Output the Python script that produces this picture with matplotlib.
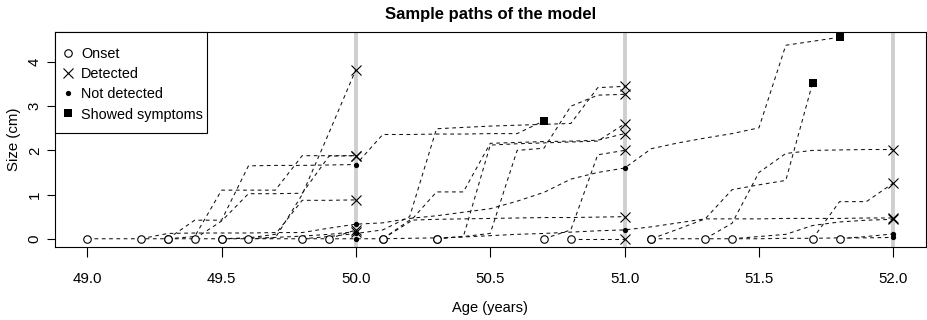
import numpy as np
import matplotlib
matplotlib.use("Agg")
import matplotlib.pyplot as plt
from matplotlib.patches import Rectangle

plt.rcParams['font.family'] = ['Liberation Sans', 'DejaVu Sans']

# ---- data: each tumour path = onset age, sizes on a 0.1-year grid, how it ended ----
screen_ages = [50.0, 51.0, 52.0]
step = 0.1

p01_onset = 49.0
p01_size = [0, 0, 0, 0, 0, 0, 0, 0, 0, 0, 0.0,
            0.0, 0.01, 0.02, 0.04, 0.07, 0.10, 0.12, 0.15, 0.18, 0.20,
            0.27, 0.36, 0.45, 0.45, 0.45, 0.46, 0.46, 0.46, 0.47, 0.47]
p01_end = "detected"

p02_onset = 49.2
p02_size = [0, 0.12, 0.13, 0.13, 0.13, 0.14, 0.14, 0.24, 0.33,
            0.36, 0.46, 0.52, 0.60, 0.68, 0.85, 1.05, 1.35, 1.50, 1.60,
            2.04, 2.17, 2.28, 2.38, 2.51, 4.38, 4.47, 4.56]
p02_end = "symptoms"

p03_onset = 49.3
p03_size = [0, 0.42, 0.42, 1.65, 1.66, 1.66, 1.67, 1.68,
            2.36, 2.36, 2.37, 2.37, 2.38, 2.38, 2.67]
p03_end = "symptoms"

p04_onset = 49.3
p04_size = [0, 0.05, 1.10, 1.10, 1.10, 1.88, 1.88, 1.88]
p04_end = "detected"

p05_onset = 49.4
p05_size = [0, 0.40, 1.02, 1.02, 1.03, 1.87, 1.88]
p05_end = "detected"

p06_onset = 49.5
p06_size = [0, 0.01, 0.03, 0.06, 0.10, 0.16]
p06_end = "detected"

p07_onset = 49.5
p07_size = [0, 0.02, 0.10, 0.87, 0.87, 0.88]
p07_end = "detected"

p08_onset = 49.6
p08_size = [0, 0.02, 1.00, 2.40, 3.83]
p08_end = "detected"

p09_onset = 49.8
p09_size = [0, 0.05, 0.12,
            0.20, 0.50, 2.49, 2.52, 2.55, 2.57, 2.59, 2.61, 3.42, 3.45]
p09_end = "detected"

p10_onset = 49.9
p10_size = [0, 0.20]
p10_end = "detected"

p11_onset = 50.1
p11_size = [0, 0.38, 1.06, 1.06, 2.16, 2.18, 2.20, 2.21, 2.23, 2.38]
p11_end = "detected"

p12_onset = 50.1
p12_size = [0, 0.42, 0.44, 0.45, 0.46, 0.47, 0.48, 0.48, 0.49, 0.50]
p12_end = "detected"

p13_onset = 50.3
p13_size = [0, 0.05, 0.12, 2.00, 2.05, 3.00, 3.25, 3.27]
p13_end = "detected"

p14_onset = 50.3
p14_size = [0, 0.05, 2.12, 2.15, 2.17, 2.19, 2.21, 2.60]
p14_end = "detected"

p15_onset = 50.7
p15_size = [0, 0.20, 1.90, 2.00]
p15_end = "detected"

p16_onset = 50.8
p16_size = [0, 0.0, 0.0]
p16_end = "detected"

p17_onset = 51.1
p17_size = [0, 0.22, 0.45, 1.11, 1.22, 1.32, 3.53]
p17_end = "symptoms"

p18_onset = 51.1
p18_size = [0, 0, 0, 0, 0, 0.01, 0.01, 0.02, 0.02, 0.03]
p18_end = "not_detected"

p19_onset = 51.3
p19_size = [0, 0.35, 1.50, 1.93, 2.00, 2.01, 2.02, 2.02]
p19_end = "detected"

p20_onset = 51.4
p20_size = [0, 0.05, 0.10, 0.30, 0.38, 0.42, 0.44]
p20_end = "detected"

p21_onset = 51.7
p21_size = [0, 0.84, 0.84, 1.26]
p21_end = "detected"

p22_onset = 51.8
p22_size = [0, 0.05, 0.11]
p22_end = "not_detected"

x_ticks = [49.0, 49.5, 50.0, 50.5, 51.0, 51.5, 52.0]
x_tick_labels = ["49.0", "49.5", "50.0", "50.5", "51.0", "51.5", "52.0"]
y_ticks = [0, 1, 2, 3, 4]
y_tick_labels = ["0", "1", "2", "3", "4"]
legend_labels = ["Onset", "Detected", "Not detected", "Showed symptoms"]

paths = [
    (p01_onset, p01_size, p01_end), (p02_onset, p02_size, p02_end),
    (p03_onset, p03_size, p03_end), (p04_onset, p04_size, p04_end),
    (p05_onset, p05_size, p05_end), (p06_onset, p06_size, p06_end),
    (p07_onset, p07_size, p07_end), (p08_onset, p08_size, p08_end),
    (p09_onset, p09_size, p09_end), (p10_onset, p10_size, p10_end),
    (p11_onset, p11_size, p11_end), (p12_onset, p12_size, p12_end),
    (p13_onset, p13_size, p13_end), (p14_onset, p14_size, p14_end),
    (p15_onset, p15_size, p15_end), (p16_onset, p16_size, p16_end),
    (p17_onset, p17_size, p17_end), (p18_onset, p18_size, p18_end),
    (p19_onset, p19_size, p19_end), (p20_onset, p20_size, p20_end),
    (p21_onset, p21_size, p21_end), (p22_onset, p22_size, p22_end),
]

# ---- figure ----
W, H = 927, 320
fig = plt.figure(figsize=(W / 100, H / 100), dpi=100)
left, right, top, bottom = 55, 925.5, 32, 246.7
ax = fig.add_axes([left / W, 1 - bottom / H, (right - left) / W, (bottom - top) / H])

ax.set_xlim(48.88, 52.12)
ax.set_ylim(-0.18, 4.68)

for s in screen_ages:
    ax.axvline(s, color="#cfcfcf", lw=2.8, zorder=1)

dash = (0, (3.6, 3.4))
circ = dict(marker="o", ms=5.4, mfc="white", mec="black", mew=0.8, ls="none", zorder=4)
cross = dict(marker="x", ms=6.6, color="black", mew=0.8, ls="none", zorder=5)
dot = dict(marker="o", ms=3.8, color="black", mew=0, ls="none", zorder=5)
square = dict(marker="s", ms=5.8, color="black", mew=0, ls="none", zorder=5)

for onset, sizes, end in paths:
    ages = np.round(onset + step * np.arange(len(sizes)), 3)
    ax.plot(ages, sizes, ls=dash, color="#111111", lw=0.75, zorder=3)
    ax.plot([ages[0]], [sizes[0]], **circ)
    for a, v in zip(ages[:-1], sizes[:-1]):
        if any(abs(a - s) < 1e-6 for s in screen_ages):
            ax.plot([a], [v], **dot)
    if end == "detected":
        ax.plot([ages[-1]], [sizes[-1]], **cross)
    elif end == "symptoms":
        ax.plot([ages[-1]], [sizes[-1]], **square)
    else:
        ax.plot([ages[-1]], [sizes[-1]], **dot)

ax.set_xticks(x_ticks)
ax.set_xticklabels(x_tick_labels)
ax.set_yticks(y_ticks)
ax.set_yticklabels(y_tick_labels, rotation=90, va="center")
ax.tick_params(axis="x", direction="out", length=7, width=0.8, labelsize=10.8, pad=11)
ax.tick_params(axis="y", direction="out", length=5.5, width=0.8, labelsize=10.8, pad=4)
for sp in ax.spines.values():
    sp.set_linewidth(0.8)
    sp.set_color("black")

ax.set_xlabel("Age (years)", fontsize=10.5, labelpad=11)
ax.set_ylabel("Size (cm)", fontsize=10.8, labelpad=5)
ax.set_title("Sample paths of the model", fontsize=12, fontweight="bold", pad=9.5)

# ---- legend box (R style) ----
def fx(px):
    return (px - left) / (right - left)

def fy(py):
    return (bottom - py) / (bottom - top)

ax.add_patch(Rectangle((fx(55), fy(133)), fx(207) - fx(55), fy(32) - fy(133),
                       transform=ax.transAxes, facecolor="white", edgecolor="black",
                       lw=0.8, zorder=10, clip_on=False))
leg_styles = [circ, cross, dot, square]
row_y = [52.5, 72.8, 93.0, 113.3]
for st, lab, ry in zip(leg_styles, legend_labels, row_y):
    ax.plot([fx(68)], [fy(ry)], transform=ax.transAxes, clip_on=False,
            **{**st, "zorder": 11})
    ax.text(fx(81), fy(ry + 1.5), lab, transform=ax.transAxes, fontsize=10.4,
            va="center", ha="left", zorder=11)

fig.savefig("out.png", dpi=100)
